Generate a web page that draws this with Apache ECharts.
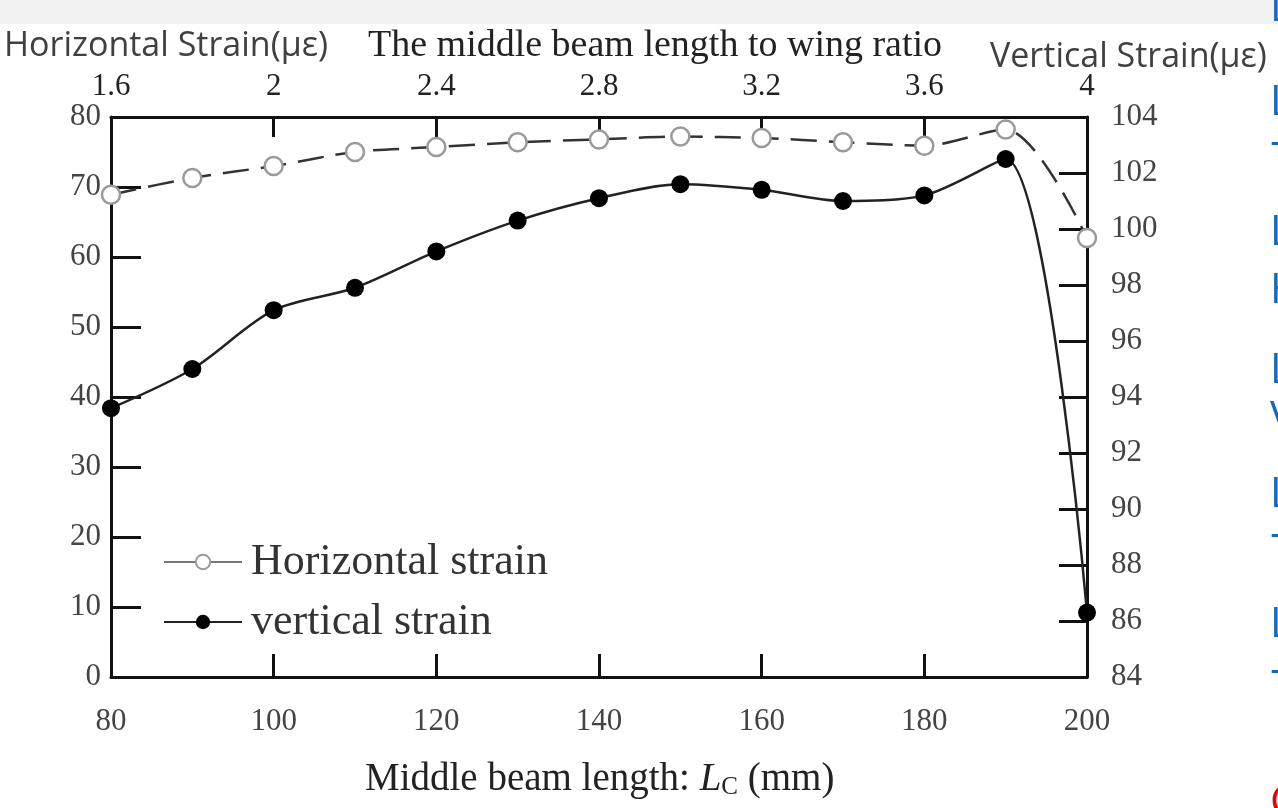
<!DOCTYPE html>
<html>
<head>
<meta charset="utf-8">
<script src="https://cdn.jsdelivr.net/npm/echarts@6/dist/echarts.min.js"></script>
<style>
  html, body { margin: 0; padding: 0; background: #fff; }
  #chart { width: 1278px; height: 808px; }
</style>
</head>
<body>
<div id="chart"></div>
<script>
// beam length (mm) on the bottom axis
const beamLength = [80, 90, 100, 110, 120, 130, 140, 150, 160, 170, 180, 190, 200];
// strains
const horizontalStrain = [68.9, 71.3, 73.0, 75.0, 75.7, 76.4, 76.8, 77.2, 77.0, 76.4, 75.9, 78.2, 62.7];
const verticalStrain = [93.6, 95.0, 97.1, 97.9, 99.2, 100.3, 101.1, 101.6, 101.4, 101.0, 101.2, 102.5, 86.3];
// axis ranges
const leftTicks = { min: 0, max: 80, interval: 10 };
const rightTicks = { min: 84, max: 104, interval: 2 };
const bottomTicks = { min: 80, max: 200, interval: 20 };
const topTicks = { min: 1.6, max: 4, interval: 0.4 };

const serif = '"Liberation Serif", "DejaVu Serif", serif';
const sans = '"Open Sans", Lato, sans-serif';
const blue = '#0a6fc2';

const chart = echarts.init(document.getElementById('chart'));

// little helper for the cut off letters at the right edge
function edgeText(txt, y, color) {
  return {
    type: 'text', left: 1270, top: y,
    style: { text: txt, fill: color || blue, font: '42px "Open Sans", sans-serif' }
  };
}

const axisLine = { show: true, onZero: false, lineStyle: { color: '#111', width: 3 } };
const tickLabel = { color: '#444', fontFamily: serif, fontSize: 31 };

const option = {
  backgroundColor: '#fff',
  animation: false,
  grid: { left: 111, right: 191, top: 117, bottom: 131, containLabel: false },
  graphic: [
    { type: 'rect', left: 0, top: 0, shape: { width: 1278, height: 24 }, style: { fill: '#f2f2f2' } },
    { type: 'text', left: 4, top: 29, style: { text: 'Horizontal Strain(με)', fill: '#404040', font: '34px ' + sans } },
    { type: 'text', left: 368, top: 27, style: { text: 'The middle beam length to wing ratio', fill: '#222', font: '38px ' + serif } },
    { type: 'text', left: 990, top: 40, style: { text: 'Vertical Strain(με)', fill: '#404040', font: '34px ' + sans } },
    {
      type: 'text', left: 365, top: 760,
      style: {
        text: '{n|Middle beam length: }{i|L}{s|C}{n| (mm)}',
        rich: {
          n: { fontFamily: serif, fontSize: 39, fill: '#222' },
          i: { fontFamily: serif, fontSize: 39, fontStyle: 'italic', fill: '#222' },
          s: { fontFamily: serif, fontSize: 25, fill: '#222', verticalAlign: 'bottom', padding: [16, 0, 0, 0] }
        }
      }
    },
    edgeText('L', -12), edgeText('L', 82), edgeText('-', 122),
    edgeText('L', 212), edgeText('H', 270), edgeText('L', 350),
    edgeText('V', 398), edgeText('L', 474), edgeText('-', 514),
    edgeText('L', 604), edgeText('-', 650), edgeText('C', 782, '#e00')
  ],
  legend: {
    left: 158, top: 535, orient: 'vertical', itemGap: 16,
    itemWidth: 78, itemHeight: 18,
    textStyle: { fontFamily: serif, fontSize: 44, color: '#333', padding: [0, 0, 0, 4] },
    data: [
      { name: 'Horizontal strain', lineStyle: { type: 'solid', color: '#777' } },
      { name: 'vertical strain' }
    ]
  },
  xAxis: [
    {
      type: 'value', position: 'bottom', ...bottomTicks,
      axisLine: axisLine,
      axisTick: { inside: true, length: 23, lineStyle: { color: '#111', width: 3 } },
      axisLabel: { ...tickLabel, margin: 29 },
      splitLine: { show: false }
    },
    {
      type: 'value', position: 'top', ...topTicks,
      axisLine: axisLine,
      axisTick: { inside: true, length: 20, lineStyle: { color: '#111', width: 3 } },
      axisLabel: { ...tickLabel, color: '#222', margin: 15 },
      splitLine: { show: false }
    }
  ],
  yAxis: [
    {
      type: 'value', position: 'left', ...leftTicks,
      axisLine: axisLine,
      axisTick: { inside: true, length: 30, lineStyle: { color: '#111', width: 3 } },
      axisLabel: { ...tickLabel, margin: 10 },
      splitLine: { show: false }
    },
    {
      type: 'value', position: 'right', ...rightTicks,
      axisLine: axisLine,
      axisTick: { inside: true, length: 28, lineStyle: { color: '#111', width: 3 } },
      axisLabel: { ...tickLabel, margin: 24 },
      splitLine: { show: false }
    }
  ],
  series: [
    {
      name: 'Horizontal strain', type: 'line', xAxisIndex: 0, yAxisIndex: 0,
      data: beamLength.map((x, i) => [x, horizontalStrain[i]]),
      smooth: 0.3, clip: false,
      symbol: 'circle', symbolSize: 18,
      itemStyle: { color: '#fff', borderColor: '#9a9a9a', borderWidth: 2.5 },
      lineStyle: { color: '#333', width: 2.5, type: [26, 12] },
      z: 3
    },
    {
      name: 'vertical strain', type: 'line', xAxisIndex: 0, yAxisIndex: 1,
      data: beamLength.map((x, i) => [x, verticalStrain[i]]),
      smooth: 0.3, clip: false,
      symbol: 'circle', symbolSize: 18,
      itemStyle: { color: '#000' },
      lineStyle: { color: '#222', width: 2.5 },
      z: 4
    }
  ]
};

chart.setOption(option);
</script>
</body>
</html>
